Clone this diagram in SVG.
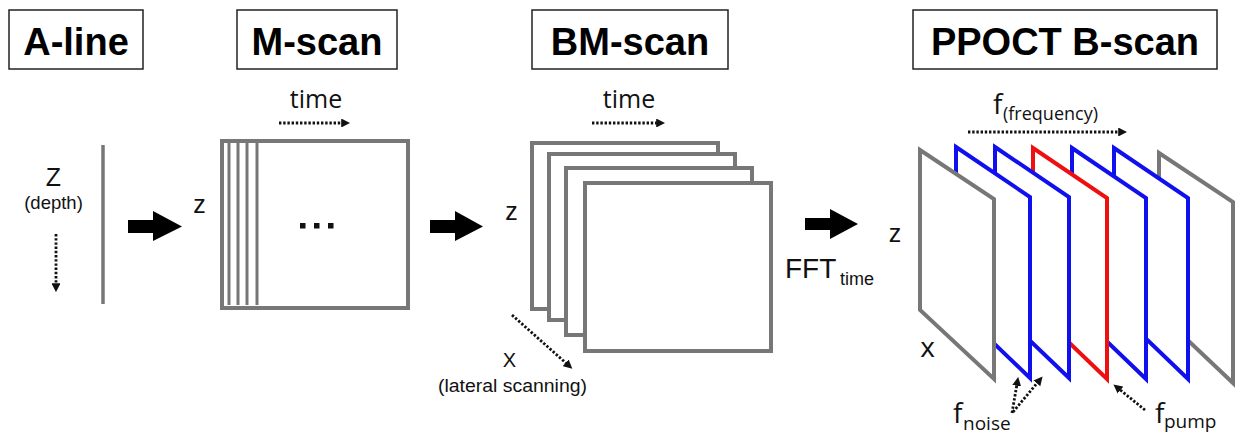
<svg xmlns="http://www.w3.org/2000/svg" width="1236" height="435" viewBox="0 0 1236 435">
<defs>
<style>
.title{font-family:"Liberation Sans",Arial,sans-serif;font-weight:bold;font-size:38px;fill:#000;text-anchor:middle}
.tbox{fill:#fff;stroke:#222;stroke-width:1.5}
.ar{font-family:"Liberation Sans",Arial,sans-serif;fill:#111}
.os{font-family:"Open Sans","Liberation Sans",sans-serif;fill:#111}
.frame{fill:#fff;stroke:#777;stroke-width:4;stroke-linejoin:miter}
.gray{fill:#fff;stroke:#777;stroke-width:4;stroke-linejoin:miter}
.blue{fill:#fff;stroke:#1010ee;stroke-width:4;stroke-linejoin:miter}
.red{fill:#fff;stroke:#ee1010;stroke-width:4;stroke-linejoin:miter}
.dot{fill:none;stroke:#111;stroke-width:2.8;stroke-dasharray:2.4 1.8;marker-end:url(#tip)}
.big{fill:#000}
</style>
<marker id="tip" viewBox="0 0 10 10" refX="2" refY="5" markerWidth="3.2" markerHeight="3.2" orient="auto" markerUnits="strokeWidth">
<path d="M0,0 L10,5 L0,10 Z" fill="#111"/>
</marker>
</defs>

<g id="title-aline"><rect class="tbox" x="9" y="10" width="134" height="59"/><text class="title" x="76" y="55">A-line</text></g>
<g id="title-mscan"><rect class="tbox" x="237" y="10" width="160" height="59"/><text class="title" x="317" y="55">M-scan</text></g>
<g id="title-bmscan"><rect class="tbox" x="532" y="10" width="196" height="59"/><text class="title" x="630" y="55">BM-scan</text></g>
<g id="title-ppoct"><rect class="tbox" x="913" y="10" width="304" height="59"/><text class="title" x="1065" y="55">PPOCT B-scan</text></g>

<g id="aline">
<text class="ar" x="53.5" y="186" font-size="25" text-anchor="middle">Z</text>
<text class="ar" x="53.5" y="209" font-size="18.5" text-anchor="middle">(depth)</text>
<line x1="103" y1="145" x2="103" y2="304" stroke="#777" stroke-width="3.5"/>
</g>

<g id="mscan">
<text class="os" x="316" y="108" font-size="25" text-anchor="middle">time</text>
<text class="ar" x="199.5" y="213" font-size="25" text-anchor="middle">z</text>
<rect class="frame" x="222" y="141" width="186" height="167"/>
<g stroke="#777" stroke-width="3">
<line x1="229" y1="143" x2="229" y2="305"/>
<line x1="238" y1="143" x2="238" y2="305"/>
<line x1="247" y1="143" x2="247" y2="305"/>
<line x1="257" y1="143" x2="257" y2="305"/>
</g>
<g fill="#111"><rect x="300" y="223" width="5.5" height="5.5"/><rect x="314" y="223" width="5.5" height="5.5"/><rect x="328" y="223" width="5.5" height="5.5"/></g>
</g>

<g id="bmscan">
<text class="os" x="629" y="108" font-size="25" text-anchor="middle">time</text>
<text class="ar" x="511.5" y="220" font-size="25" text-anchor="middle">z</text>
<rect class="frame" x="532" y="143" width="186" height="166"/>
<rect class="frame" x="549" y="154" width="186" height="166"/>
<rect class="frame" x="566" y="168" width="186" height="167"/>
<rect class="frame" x="585" y="183" width="186" height="168"/>
<text class="ar" x="509.5" y="367" font-size="20" text-anchor="middle">X</text>
<text class="ar" x="512.5" y="392" font-size="17.5" text-anchor="middle" textLength="149" lengthAdjust="spacingAndGlyphs">(lateral scanning)</text>
</g>

<g id="fft">
<text class="ar" x="785" y="278" font-size="28">FFT</text>
<text class="ar" x="840" y="285" font-size="18">time</text>
</g>

<g id="ppoct">
<text class="ar" x="895" y="242" font-size="25" text-anchor="middle">z</text>
<text class="os" x="927.5" y="357" font-size="28" text-anchor="middle">x</text>
<text class="os" x="993" y="114" font-size="28">f</text>
<text class="os" x="1003" y="120" font-size="18">(frequency)</text>
<polygon class="gray" points="1159,153 1233,202 1233,383 1159,313"/>
<polygon class="blue" points="1114,148 1188,198 1188,379 1114,308"/>
<polygon class="blue" points="1072,148 1146,198 1146,379 1072,308"/>
<polygon class="red" points="1033,148 1107,198 1107,379 1033,308"/>
<polygon class="blue" points="995,147 1069,197 1069,378 995,307"/>
<polygon class="blue" points="956,147 1030,197 1030,378 956,307"/>
<polygon class="gray" points="920,150 994,199 994,379 920,310"/>
<text class="os" x="953" y="423" font-size="28">f</text>
<text class="os" x="963" y="430" font-size="19">noise</text>
<text class="os" x="1155" y="423" font-size="28">f</text>
<text class="os" x="1164" y="428" font-size="19">pump</text>
</g>

<g id="connectors">
<path class="big" d="M128,220 L153,220 L153,211 L182,226.5 L153,241 L153,233 L128,233 Z"/>
<path class="big" d="M430,220 L455,220 L455,211 L483,226.5 L455,241 L455,233 L430,233 Z"/>
<path class="big" d="M805,218 L830,218 L830,209 L858,224 L830,239 L830,230 L805,230 Z"/>
<path class="dot" d="M56,234 L56,285"/>
<path class="dot" d="M279,123 L343,123"/>
<path class="dot" d="M592,123 L658,123"/>
<path class="dot" d="M512,315 L567,364"/>
<path class="dot" d="M968,132 L1120,132"/>
<path class="dot" d="M1012,413 L1017,384"/>
<path class="dot" d="M1013,412 L1038,382"/>
<path class="dot" d="M1145,410 L1119,389"/>
</g>
</svg>
